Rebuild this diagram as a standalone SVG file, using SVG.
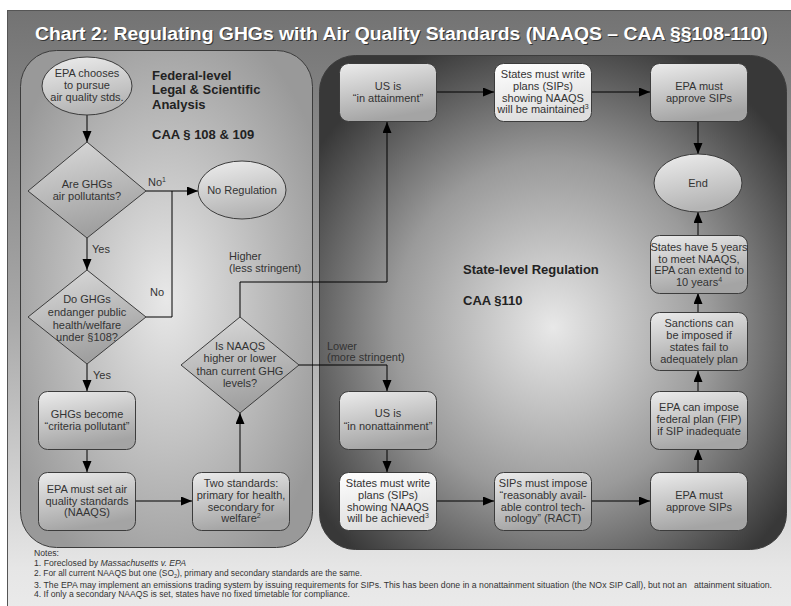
<svg xmlns="http://www.w3.org/2000/svg" width="791" height="606" viewBox="0 0 791 606">
<defs>
<linearGradient id="frameG" x1="0" y1="0" x2="0" y2="1">
<stop offset="0" stop-color="#737373"/>
<stop offset="0.5" stop-color="#a9a9a9"/>
<stop offset="0.9" stop-color="#e6e6e6"/>
<stop offset="1" stop-color="#ececec"/>
</linearGradient>
<radialGradient id="leftG" cx="0.5" cy="0.5" r="0.6">
<stop offset="0" stop-color="#e8e8e8"/>
<stop offset="1" stop-color="#999999"/>
</radialGradient>
<radialGradient id="rightG" cx="0.5" cy="0.55" r="0.62">
<stop offset="0" stop-color="#e8e8e8"/>
<stop offset="0.55" stop-color="#9a9a9a"/>
<stop offset="1" stop-color="#383838"/>
</radialGradient>
<linearGradient id="boxG" x1="0" y1="0" x2="0.3" y2="1">
<stop offset="0" stop-color="#ececec"/>
<stop offset="1" stop-color="#a4a4a4"/>
</linearGradient>
<linearGradient id="whiteG" x1="0" y1="0" x2="0.3" y2="1">
<stop offset="0" stop-color="#ffffff"/>
<stop offset="1" stop-color="#dedede"/>
</linearGradient>
<linearGradient id="ellG" x1="0" y1="0" x2="0.3" y2="1">
<stop offset="0" stop-color="#eeeeee"/>
<stop offset="1" stop-color="#b4b4b4"/>
</linearGradient>
<linearGradient id="diaG" x1="0" y1="0" x2="0.3" y2="1">
<stop offset="0" stop-color="#dcdcdc"/>
<stop offset="1" stop-color="#a0a0a0"/>
</linearGradient>
<marker id="arr" markerUnits="userSpaceOnUse" markerWidth="12" markerHeight="10" refX="11" refY="4.5" orient="auto">
<path d="M0,0 L11,4.5 L0,9 z" fill="#000"/>
</marker>
</defs>
<style>
.t{font-family:"Liberation Sans",Arial,sans-serif;font-size:11px;fill:#333;text-anchor:middle}
.l{font-family:"Liberation Sans",Arial,sans-serif;font-size:11px;fill:#333}
.h{font-family:"Liberation Sans",Arial,sans-serif;font-size:13px;font-weight:bold;fill:#222}
.n{font-family:"Liberation Sans",Arial,sans-serif;font-size:8.5px;fill:#333}
.box{fill:url(#boxG);stroke:#3c3c3c;stroke-width:1}
.wbox{fill:url(#whiteG);stroke:#3c3c3c;stroke-width:1}
.ell{fill:url(#ellG);stroke:#3c3c3c;stroke-width:1}
.dia{fill:url(#diaG);stroke:#3c3c3c;stroke-width:1}
.c{fill:none;stroke:#000;stroke-width:1}
.sup{font-size:7px}
</style>
<rect x="0" y="0" width="791" height="606" fill="#ffffff"/>
<rect x="7.5" y="10.5" width="800" height="620" fill="url(#frameG)" stroke="#555" stroke-width="1"/>
<text x="36" y="41" font-family="'Liberation Sans',Arial,sans-serif" font-size="18" font-weight="bold" fill="#333" textLength="733" lengthAdjust="spacingAndGlyphs">Chart 2: Regulating GHGs with Air Quality Standards (NAAQS – CAA §§108-110)</text>
<text x="35" y="40" font-family="'Liberation Sans',Arial,sans-serif" font-size="18" font-weight="bold" fill="#ffffff" textLength="733" lengthAdjust="spacingAndGlyphs">Chart 2: Regulating GHGs with Air Quality Standards (NAAQS – CAA §§108-110)</text>
<rect id="federal-panel" x="20.5" y="50.5" width="292" height="497" rx="36" fill="url(#leftG)" stroke="#3c3c3c"/>
<rect id="state-panel" x="319.5" y="55.5" width="467" height="494" rx="36" fill="url(#rightG)" stroke="#3c3c3c"/>
<text class="h" x="152" y="80">Federal-level</text>
<text class="h" x="152" y="94">Legal &amp; Scientific</text>
<text class="h" x="152" y="109">Analysis</text>
<text class="h" x="152" y="139">CAA § 108 &amp; 109</text>
<text class="h" x="463" y="274">State-level Regulation</text>
<text class="h" x="463" y="305">CAA §110</text>
<g id="connectors">
<path class="c" d="M87,115 V142" marker-end="url(#arr)"/>
<path class="c" d="M146,191 H198" marker-end="url(#arr)"/>
<path class="c" d="M146,317 H172 V191"/>
<path class="c" d="M87,238 V270" marker-end="url(#arr)"/>
<path class="c" d="M87,364 V391" marker-end="url(#arr)"/>
<path class="c" d="M87,449 V472" marker-end="url(#arr)"/>
<path class="c" d="M135,501 H192" marker-end="url(#arr)"/>
<path class="c" d="M240,472 V413" marker-end="url(#arr)"/>
<path class="c" d="M240,317 V282 H387 V122" marker-end="url(#arr)"/>
<path class="c" d="M299,365 H387 V391" marker-end="url(#arr)"/>
<path class="c" d="M436,92 H494" marker-end="url(#arr)"/>
<path class="c" d="M592,92 H650" marker-end="url(#arr)"/>
<path class="c" d="M698,122 V154" marker-end="url(#arr)"/>
<path class="c" d="M698,236 V212" marker-end="url(#arr)"/>
<path class="c" d="M698,312 V293" marker-end="url(#arr)"/>
<path class="c" d="M698,391 V371" marker-end="url(#arr)"/>
<path class="c" d="M698,472 V449" marker-end="url(#arr)"/>
<path class="c" d="M591,501 H650" marker-end="url(#arr)"/>
<path class="c" d="M437,501 H494" marker-end="url(#arr)"/>
<path class="c" d="M387,449 V472" marker-end="url(#arr)"/>
<text class="l" x="148" y="186">No<tspan class="sup" dy="-4">1</tspan></text>
<text class="l" x="150" y="296">No</text>
<text class="l" x="92" y="253">Yes</text>
<text class="l" x="93" y="379">Yes</text>
<text class="l" x="229" y="260">Higher</text>
<text class="l" x="229" y="272">(less stringent)</text>
<text class="l" x="327" y="350">Lower</text>
<text class="l" x="327" y="361">(more stringent)</text>
</g>
<g id="epa-chooses">
<ellipse class="ell" cx="87" cy="86" rx="45" ry="29"/>
<text class="t" x="87" y="77">EPA chooses</text>
<text class="t" x="87" y="89">to pursue</text>
<text class="t" x="87" y="101">air quality stds.</text>
</g>
<g id="q-air-pollutants">
<polygon class="dia" points="87,142 146,191 87,238 28,191"/>
<text class="t" x="87" y="188">Are GHGs</text>
<text class="t" x="87" y="200">air pollutants?</text>
</g>
<g id="no-regulation">
<ellipse class="ell" cx="242" cy="190" rx="44" ry="29"/>
<text class="t" x="242" y="194">No Regulation</text>
</g>
<g id="q-endanger">
<polygon class="dia" points="87,270 146,317 87,364 28,317"/>
<text class="t" x="87" y="303">Do GHGs</text>
<text class="t" x="87" y="316">endanger public</text>
<text class="t" x="87" y="329">health/welfare</text>
<text class="t" x="87" y="341">under §108?</text>
</g>
<g id="criteria-pollutant">
<rect class="box" x="38.5" y="391.5" width="97" height="58" rx="9"/>
<text class="t" x="87" y="418">GHGs become</text>
<text class="t" x="87" y="430">“criteria pollutant”</text>
</g>
<g id="epa-set-standards">
<rect class="box" x="38.5" y="472.5" width="97" height="58" rx="9"/>
<text class="t" x="87" y="493">EPA must set air</text>
<text class="t" x="87" y="505">quality standards</text>
<text class="t" x="87" y="516">(NAAQS)</text>
</g>
<g id="two-standards">
<rect class="box" x="192.5" y="472.5" width="97" height="58" rx="9"/>
<text class="t" x="241" y="487">Two standards:</text>
<text class="t" x="241" y="499">primary for health,</text>
<text class="t" x="241" y="511">secondary for</text>
<text class="t" x="241" y="522">welfare<tspan class="sup" dy="-4">2</tspan></text>
</g>
<g id="q-naaqs-level">
<polygon class="dia" points="240,317 299,365 240,413 181,365"/>
<text class="t" x="240" y="350">Is NAAQS</text>
<text class="t" x="240" y="362">higher or lower</text>
<text class="t" x="240" y="375">than current GHG</text>
<text class="t" x="240" y="387">levels?</text>
</g>
<g id="in-attainment">
<rect class="box" x="339.5" y="63.5" width="97" height="58" rx="9"/>
<text class="t" x="388" y="90">US is</text>
<text class="t" x="388" y="102">“in attainment”</text>
</g>
<g id="sips-maintained">
<rect class="wbox" x="494.5" y="63.5" width="97" height="58" rx="9"/>
<text class="t" x="543" y="78">States must write</text>
<text class="t" x="543" y="90">plans (SIPs)</text>
<text class="t" x="543" y="102">showing NAAQS</text>
<text class="t" x="543" y="113">will be maintained<tspan class="sup" dy="-4">3</tspan></text>
</g>
<g id="epa-approve-top">
<rect class="box" x="650.5" y="63.5" width="97" height="58" rx="9"/>
<text class="t" x="699" y="90">EPA must</text>
<text class="t" x="699" y="102">approve SIPs</text>
</g>
<g id="end">
<ellipse class="ell" cx="698" cy="183" rx="44" ry="29"/>
<text class="t" x="698" y="187">End</text>
</g>
<g id="five-years">
<rect class="box" x="650.5" y="235.5" width="97" height="58" rx="9"/>
<text class="t" x="699" y="251">States have 5 years</text>
<text class="t" x="699" y="263">to meet NAAQS,</text>
<text class="t" x="699" y="274">EPA can extend to</text>
<text class="t" x="699" y="286">10 years<tspan class="sup" dy="-4">4</tspan></text>
</g>
<g id="sanctions">
<rect class="box" x="650.5" y="312.5" width="97" height="58" rx="9"/>
<text class="t" x="699" y="327">Sanctions can</text>
<text class="t" x="699" y="339">be imposed if</text>
<text class="t" x="699" y="351">states fail to</text>
<text class="t" x="699" y="363">adequately plan</text>
</g>
<g id="fip">
<rect class="box" x="650.5" y="391.5" width="97" height="58" rx="9"/>
<text class="t" x="699" y="411">EPA can impose</text>
<text class="t" x="699" y="423">federal plan (FIP)</text>
<text class="t" x="699" y="435">if SIP inadequate</text>
</g>
<g id="epa-approve-bottom">
<rect class="box" x="650.5" y="472.5" width="97" height="58" rx="9"/>
<text class="t" x="699" y="499">EPA must</text>
<text class="t" x="699" y="511">approve SIPs</text>
</g>
<g id="ract">
<rect class="box" x="494.5" y="472.5" width="97" height="58" rx="9"/>
<text class="t" x="543" y="487">SIPs must impose</text>
<text class="t" x="543" y="499">“reasonably avail-</text>
<text class="t" x="543" y="511">able control tech-</text>
<text class="t" x="543" y="522">nology” (RACT)</text>
</g>
<g id="sips-achieved">
<rect class="wbox" x="339.5" y="472.5" width="97" height="58" rx="9"/>
<text class="t" x="388" y="487">States must write</text>
<text class="t" x="388" y="499">plans (SIPs)</text>
<text class="t" x="388" y="511">showing NAAQS</text>
<text class="t" x="388" y="522">will be achieved<tspan class="sup" dy="-4">3</tspan></text>
</g>
<g id="nonattainment">
<rect class="box" x="339.5" y="391.5" width="97" height="58" rx="9"/>
<text class="t" x="388" y="417">US is</text>
<text class="t" x="388" y="430">“in nonattainment”</text>
</g>
<g id="notes">
<text class="n" x="34" y="556" textLength="25" lengthAdjust="spacingAndGlyphs">Notes:</text>
<text class="n" x="34" y="566" textLength="152" lengthAdjust="spacingAndGlyphs">1. Foreclosed by <tspan font-style="italic">Massachusetts v. EPA</tspan></text>
<text class="n" x="34" y="576" textLength="328" lengthAdjust="spacingAndGlyphs">2. For all current NAAQS but one (SO<tspan font-size="5.5" baseline-shift="-2">2</tspan>), primary and secondary standards are the same.</text>
<text class="n" x="34" y="588" textLength="738" lengthAdjust="spacingAndGlyphs" style="white-space:pre">3. The EPA may implement an emissions trading system by issuing requirements for SIPs. This has been done in a nonattainment situation (the NOx SIP Call), but not an   attainment situation.</text>
<text class="n" x="34" y="597" textLength="316" lengthAdjust="spacingAndGlyphs">4. If only a secondary NAAQS is set, states have no fixed timetable for compliance.</text>
</g>
</svg>
